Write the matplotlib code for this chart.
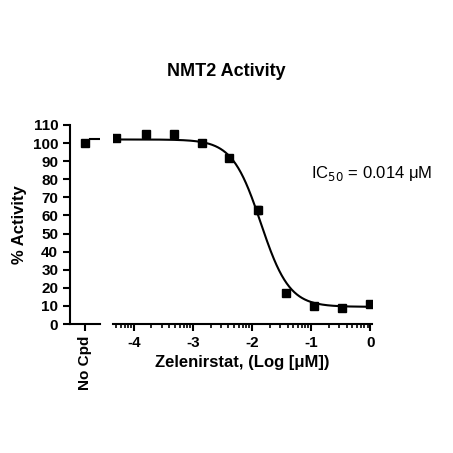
import numpy as np
import matplotlib
matplotlib.use("Agg")
import matplotlib.pyplot as plt
from matplotlib.ticker import FixedLocator

plt.rcParams['font.family'] = ['Liberation Sans', 'DejaVu Sans']

log_conc = [-4.3, -3.8, -3.32, -2.85, -2.38, -1.9, -1.43, -0.95, -0.47, 0.0]
activity = [103, 105, 105, 100, 92, 63, 17, 10, 9, 11]
errors = [1, 1.5, 1.5, 1, 1, 2, 1, 1, 0.5, 1]
nocpd = 100
top, bottom, logic50, hill = 102, 9.5, -1.85, 1.8

fig = plt.figure(figsize=(4.53, 4.53), dpi=100)
W = H = 453
def rect(x0, x1, y0, y1):
    return [x0 / W, 1 - y1 / H, (x1 - x0) / W, (y1 - y0) / H]

axL = fig.add_axes(rect(70, 100, 125, 324))
ax = fig.add_axes(rect(113, 372, 125, 324))

for a in (axL, ax):
    a.set_ylim(0, 110)
    a.spines['top'].set_visible(False)
    a.spines['right'].set_visible(False)
    for s in a.spines.values():
        s.set_linewidth(1.5)
    a.tick_params(width=1.5, length=5, labelsize=11)

axL.set_xlim(-1, 1)
axL.errorbar([0], [nocpd], yerr=[1], fmt='s', color='black', ms=6, capsize=2)
axL.plot([0.3, 1], [top, top], color='black', lw=1.5)
axL.set_xticks([0])
axL.set_xticklabels(['No Cpd'], rotation=90, fontweight='bold')
axL.set_yticks(range(0, 111, 10))
axL.set_yticklabels([str(v) for v in range(0, 111, 10)], fontweight='bold')
axL.set_ylabel('% Activity', fontweight='bold', fontsize=12)

ax.set_xlim(-4.35, 0.03)
ax.spines['left'].set_visible(False)
ax.set_yticks([])
ax.errorbar(log_conc, activity, yerr=errors, fmt='s', color='black', ms=6, capsize=2)
xx = np.linspace(-4.3, 0, 400)
yy = bottom + (top - bottom) / (1 + 10 ** ((xx - logic50) * hill))
ax.plot(xx, yy, color='black', lw=1.5)
ax.set_xticks([-4, -3, -2, -1, 0])
ax.set_xticklabels(['-4', '-3', '-2', '-1', '0'], fontweight='bold')
minors = [d + np.log10(m) for d in range(-5, 1) for m in range(2, 10)]
minors = [m for m in minors if -4.35 <= m <= 0.03]
ax.xaxis.set_minor_locator(FixedLocator(minors))
ax.tick_params(which='minor', length=3, width=1.2)
ax.set_xlabel('Zelenirstat, (Log [μM])', fontweight='bold', fontsize=12)

ax.text(-1.0, 83, r'IC$_{50}$ = 0.014 μM', fontsize=12, ha='left', va='center')
fig.text(0.5, 1 - 72 / H, 'NMT2 Activity', ha='center', va='center', fontsize=13, fontweight='bold')

fig.savefig('out.png', dpi=100)
